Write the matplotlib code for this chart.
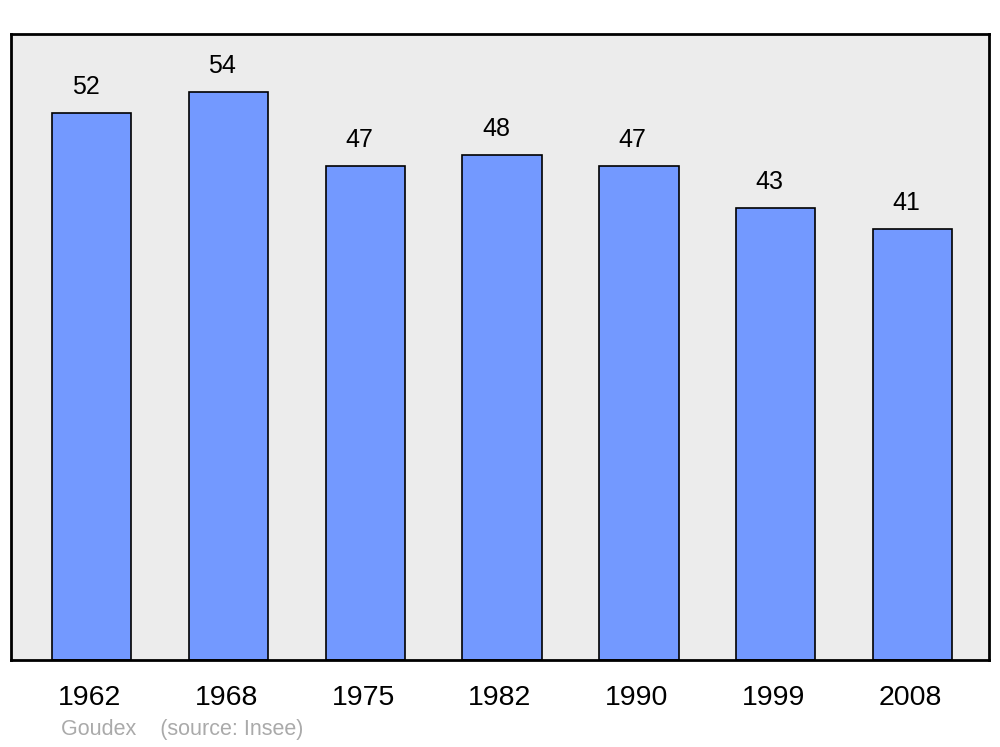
import matplotlib
matplotlib.use("Agg")
import matplotlib.pyplot as plt

years = ["1962", "1968", "1975", "1982", "1990", "1999", "2008"]
population = [52, 54, 47, 48, 47, 43, 41]

plt.rcParams['font.family'] = ['Liberation Sans', 'DejaVu Sans']

fig = plt.figure(figsize=(10, 7.47), dpi=100)
ax = fig.add_axes([0.011, 1 - 660/747, 0.978, (660-34)/747])
ax.set_facecolor('#ececec')
x = list(range(len(years)))
ax.bar(x, population, width=0.58, color='#7399ff', edgecolor='black', linewidth=1.2, zorder=2)
for xi, v in zip(x, population):
    ax.text(xi - 0.045, v + 1.3, str(v), ha='center', va='bottom', fontsize=18)
ax.set_xlim(-0.59, 6.56)
ax.set_ylim(0, 59.5)
ax.set_yticks([])
ax.set_xticks([xi - 0.015 for xi in x])
ax.set_xticklabels(years, fontsize=20.5)
ax.tick_params(axis='x', length=0, pad=18)
for s in ax.spines.values():
    s.set_linewidth(2)
fig.text(0.061, 1 - 730/747, "Goudex    (source: Insee)", color='#aaaaaa', fontsize=15.5, va='center')
fig.savefig("out.png", dpi=100)
